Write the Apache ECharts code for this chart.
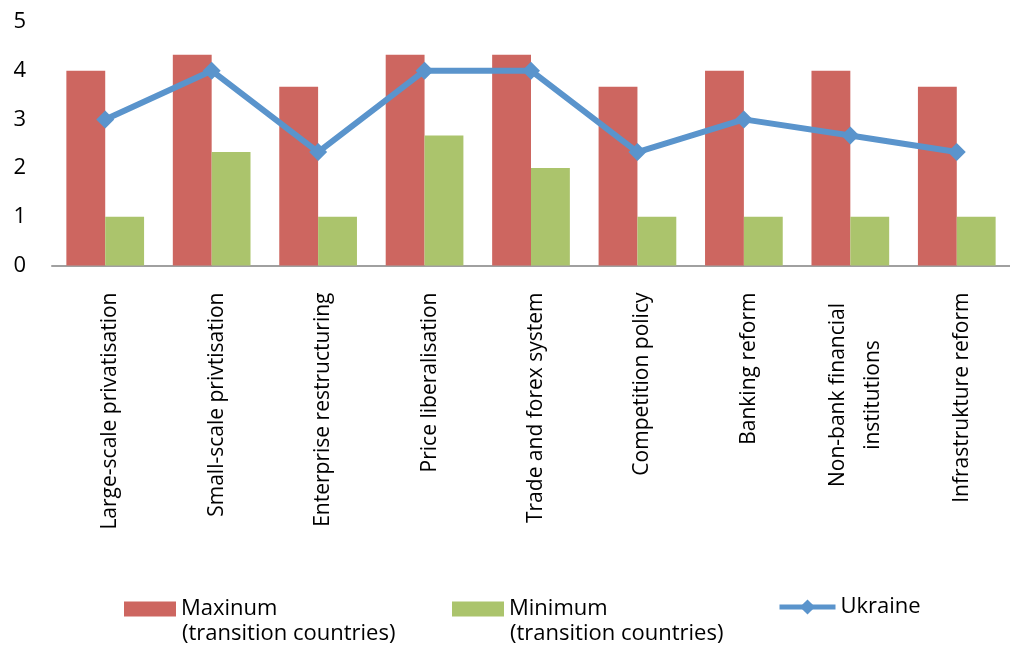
<!DOCTYPE html>
<html>
<head>
<meta charset="utf-8">
<script src="https://cdn.jsdelivr.net/npm/echarts@6/dist/echarts.min.js"></script>
<style>
  html, body { margin: 0; padding: 0; background: #fff; }
  #chart { width: 1010px; height: 650px; }
</style>
</head>
<body>
<div id="chart"></div>
<script>
// EBRD transition indicators (scale 1 to 4+)
const categories = [
  'Large-scale privatisation',
  'Small-scale privtisation',
  'Enterprise restructuring',
  'Price liberalisation',
  'Trade and forex system',
  'Competition policy',
  'Banking reform',
  'Non-bank financial\ninstitutions',
  'Infrastrukture reform'
];
const maximumValues = [4, 4.33, 3.67, 4.33, 4.33, 3.67, 4, 4, 3.67];
const minimumValues = [1, 2.33, 1, 2.67, 2, 1, 1, 1, 1];
const ukraineValues = [3, 4, 2.33, 4, 4, 2.33, 3, 2.67, 2.33];
const yTicks = [0, 1, 2, 3, 4, 5];
const legendSubtitle = '(transition countries)';

const FONT = 'Open Sans';
const RED = '#CD6660';
const GREEN = '#ABC46C';
const BLUE = '#5A94CC';

const legendText = { fontFamily: FONT, fontSize: 22, color: '#000', lineHeight: 15 };

const chart = echarts.init(document.getElementById('chart'), null, { renderer: 'canvas' });
chart.setOption({
  animation: false,
  backgroundColor: '#fff',
  grid: { left: 52, right: 0, top: 22, bottom: 384.5, containLabel: false },
  xAxis: {
    type: 'category',
    data: categories,
    axisLine: { show: true, lineStyle: { color: '#A0A0A0', width: 2 } },
    axisTick: { show: false },
    axisLabel: {
      rotate: 90,
      interval: 0,
      margin: 27,
      fontFamily: FONT,
      fontSize: 21,
      color: '#000',
      lineHeight: 35,
      align: 'right',
      padding: [10, 0, 0, 0],
      // two-line labels are centred line by line
      formatter: (v) => v.indexOf('\n') >= 0
        ? v.split('\n').map((s) => '{c|' + s + '}').join('\n')
        : v,
      rich: {
        c: { fontFamily: FONT, fontSize: 21, color: '#000', lineHeight: 35, width: 205, align: 'center' }
      }
    },
    splitLine: { show: false }
  },
  yAxis: {
    type: 'value',
    min: yTicks[0],
    max: yTicks[yTicks.length - 1],
    interval: 1,
    axisLine: { show: false },
    axisTick: { show: false },
    splitLine: { show: false },
    axisLabel: {
      margin: 26,
      fontFamily: FONT,
      fontSize: 22,
      color: '#000'
    }
  },
  legend: [
    {
      left: 124, top: 598, padding: 0,
      itemWidth: 52, itemHeight: 15, itemGap: 6,
      icon: 'rect',
      data: ['Maxinum'],
      textStyle: legendText
    },
    {
      left: 452, top: 598, padding: 0,
      itemWidth: 52, itemHeight: 15, itemGap: 6,
      icon: 'rect',
      data: ['Minimum'],
      textStyle: legendText
    },
    {
      left: 777, top: 596, padding: 0,
      itemWidth: 56, itemHeight: 19, itemGap: 4,
      data: ['Ukraine'],
      lineStyle: { width: 5 },
      textStyle: legendText
    }
  ],
  graphic: [
    { type: 'text', left: 182, top: 623, style: { text: legendSubtitle, fontFamily: FONT, fontSize: 22, fill: '#000' } },
    { type: 'text', left: 510, top: 623, style: { text: legendSubtitle, fontFamily: FONT, fontSize: 22, fill: '#000' } }
  ],
  series: [
    {
      name: 'Maxinum',
      type: 'bar',
      data: maximumValues,
      barGap: '0%',
      barCategoryGap: '27%',
      itemStyle: { color: RED }
    },
    {
      name: 'Minimum',
      type: 'bar',
      data: minimumValues,
      barGap: '0%',
      barCategoryGap: '27%',
      itemStyle: { color: GREEN }
    },
    {
      name: 'Ukraine',
      type: 'line',
      data: ukraineValues,
      symbol: 'diamond',
      symbolSize: 18,
      lineStyle: { color: BLUE, width: 6 },
      itemStyle: { color: BLUE },
      z: 5
    }
  ]
});
</script>
</body>
</html>
